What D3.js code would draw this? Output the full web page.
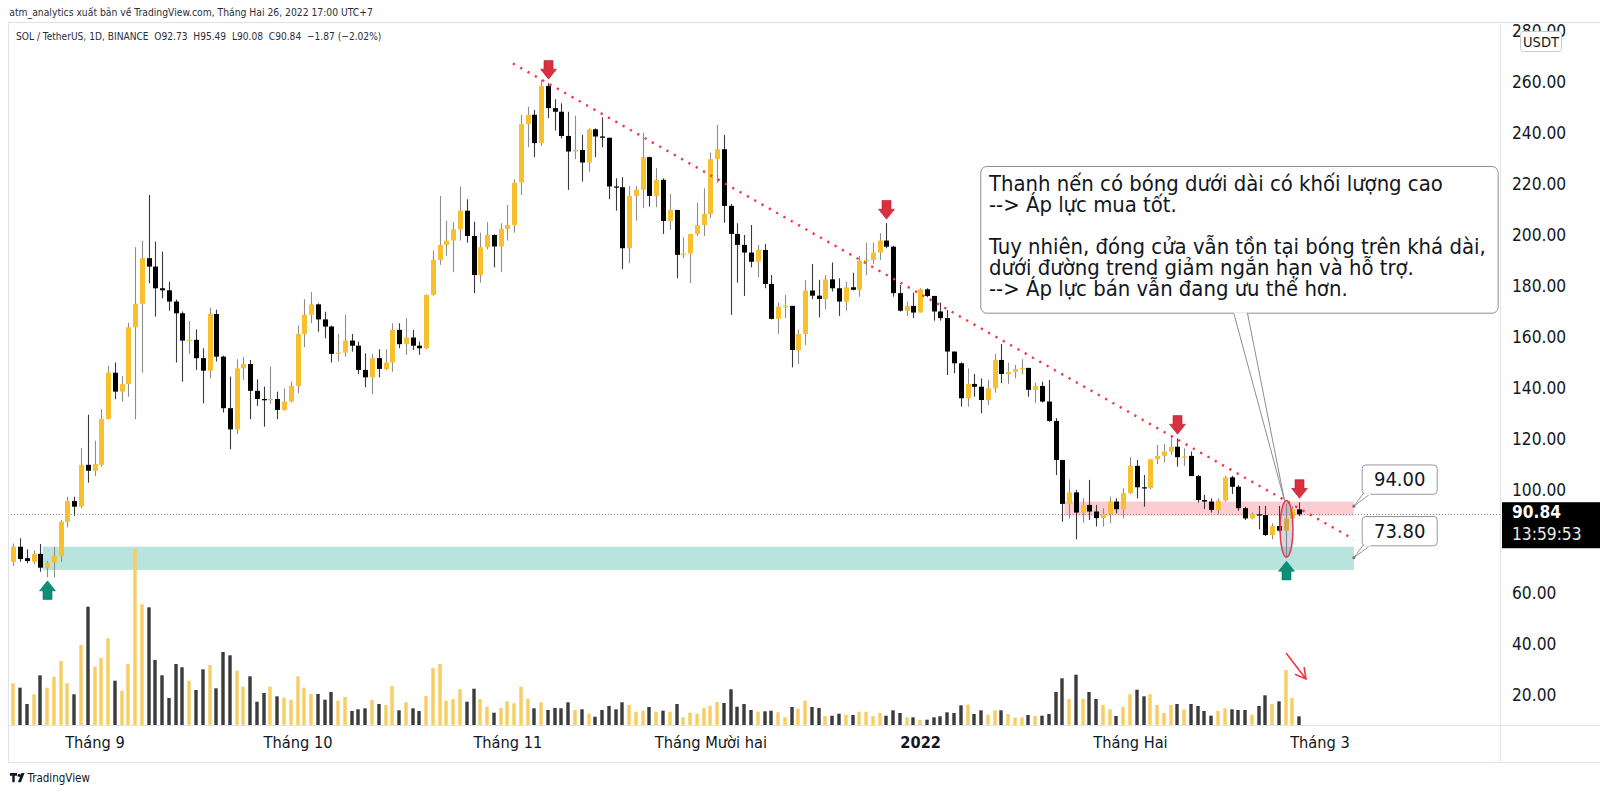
<!DOCTYPE html>
<html><head><meta charset="utf-8">
<script src="https://cdn.jsdelivr.net/npm/d3@7"></script>
<style>
html,body{margin:0;padding:0;background:#fff;}
svg{display:block;}
text{font-family:"DejaVu Sans Condensed","DejaVu Sans",sans-serif;}
</style></head>
<body>
<svg id="c" width="1600" height="794"></svg>
<script>
// ---------------- DATA ----------------
const startDay = "2021-08-20"; // first daily bar
const opens = [72.2,78.1,73.6,72.2,75.3,69.9,71.9,74.5,87.9,96.0,93.8,110.2,107.9,110.2,128.2,146.3,138.9,141.9,164.1,173.3,191.2,187.9,179.4,178.6,174.2,169.6,158.9,159.2,152.0,147.1,169.3,152.6,132.4,124.1,148.0,149.7,139.2,136.0,135.5,136.0,131.7,135.0,141.1,161.5,169.0,173.1,167.2,164.4,153.7,154.2,158.9,156.9,147.4,144.5,152.0,147.8,150.3,163.1,157.5,160.1,156.9,155.9,176.8,190.5,196.4,198.1,202.5,209.8,199.9,184.6,195.5,200.3,195.8,202.7,204.2,220.8,243.7,247.4,236.3,258.7,250.0,248.6,239.1,233.0,233.6,228.7,241.7,238.9,238.4,219.3,219.0,195.1,215.6,218.0,230.8,215.6,221.9,205.8,210.1,192.5,193.0,200.7,204.2,208.5,230.0,233.9,211.7,200.7,196.4,193.4,189.8,194.4,181.1,167.4,172.2,172.5,155.2,161.5,178.5,176.5,175.2,182.9,179.4,174.2,179.8,178.8,190.2,190.5,193.4,198.1,195.7,177.5,170.6,172.5,169.9,179.0,176.4,170.3,167.7,154.6,150.0,136.3,141.9,140.8,135.6,140.2,151.3,145.8,146.6,147.7,148.2,139.6,141.1,135.0,127.4,112.1,94.9,99.4,91.5,94.5,91.9,89.3,90.9,95.8,92.8,99.1,109.8,101.4,101.2,112.4,113.7,115.4,117.3,113.2,113.7,105.8,96.4,95.8,92.5,96.2,105.3,101.6,93.2,89.2,90.8,90.5,82.7,86.2,84.4,89.2,92.73];
const highs = [79.4,81.4,77.1,76.6,79.2,72.6,78.1,88.6,97.7,97.7,116.7,129.8,119.7,132.0,149.0,150.3,145.0,165.9,195.5,198.0,216.0,197.7,193.8,182.0,175.0,170.3,166.6,163.3,155.9,171.8,171.0,153.0,144.8,151.6,152.6,151.3,143.7,140.9,148.7,138.9,140.2,142.8,164.8,175.1,177.9,173.5,170.2,164.8,161.5,169.0,161.5,158.5,153.9,153.7,155.5,155.5,165.7,165.7,167.7,163.1,158.5,177.0,194.2,215.6,205.9,205.3,219.3,214.3,205.5,201.2,205.3,200.5,204.9,212.1,222.1,247.4,250.6,249.3,261.1,259.8,253.5,251.9,248.6,247.0,239.5,242.1,242.1,246.4,238.4,222.5,222.9,219.5,219.5,240.4,231.0,226.5,222.5,216.4,210.1,199.4,200.7,213.0,218.6,232.6,243.4,239.5,212.5,204.9,200.3,204.2,196.4,196.8,184.6,173.8,176.8,172.5,163.3,182.7,188.9,182.7,184.6,189.5,183.3,182.0,185.5,192.1,197.3,197.3,201.0,204.9,196.0,180.7,174.2,177.7,179.4,179.4,176.4,173.8,170.9,154.6,150.4,148.0,145.8,144.1,143.5,153.7,157.6,150.3,149.4,151.6,148.2,142.4,142.8,143.5,128.5,112.1,104.5,100.4,97.1,104.3,94.5,93.2,97.7,97.1,101.0,113.2,112.1,106.2,112.4,118.0,118.4,121.5,120.6,116.7,115.4,106.2,98.4,97.1,97.1,105.9,105.9,102.3,93.8,91.5,94.1,94.1,87.3,94.1,94.9,94.1,95.49];
const lows = [70.6,72.2,71.6,71.3,68.3,66.1,66.1,72.2,85.7,90.2,93.2,103.2,105.8,109.5,128.0,135.9,135.0,136.9,128.1,146.3,181.4,168.3,175.5,170.6,150.3,142.8,153.7,147.4,134.3,144.1,150.7,130.7,116.3,122.3,143.5,128.1,133.3,125.2,134.1,128.1,131.4,134.7,138.3,156.3,165.7,162.4,159.8,150.3,150.7,152.6,154.6,145.7,140.6,137.9,144.5,147.4,146.7,155.9,153.3,155.2,153.3,155.5,176.5,188.6,192.1,185.7,198.1,197.3,177.5,181.6,194.7,187.6,185.7,198.1,201.2,216.0,234.7,230.8,235.2,246.1,241.2,238.2,218.0,230.0,221.2,225.1,230.8,234.7,214.3,209.8,186.9,189.2,205.9,210.8,211.4,211.2,200.7,202.3,183.3,191.2,181.4,199.9,199.9,206.9,220.6,205.1,169.0,181.6,176.4,187.6,183.7,179.4,167.2,161.5,167.7,148.4,149.7,157.2,175.1,168.0,171.2,178.1,168.6,170.6,178.6,176.1,184.6,188.9,190.5,195.1,176.1,170.3,168.6,167.7,169.9,175.9,166.7,166.7,145.4,146.1,133.0,133.0,136.9,130.4,133.7,138.5,142.2,141.9,144.1,145.8,136.9,134.3,134.6,127.1,106.2,87.9,89.2,81.0,87.5,88.6,86.0,86.0,87.3,91.2,89.2,98.8,97.1,93.8,100.6,110.5,111.1,114.1,109.5,109.8,105.8,95.4,92.8,91.5,90.9,95.8,98.8,92.2,88.6,88.8,84.9,82.3,81.0,84.0,73.8,86.6,90.08];
const closes = [78.1,73.3,72.5,75.3,69.9,71.9,74.5,87.9,96.0,93.8,110.2,107.9,110.5,128.2,146.3,138.9,141.9,164.1,173.3,191.2,187.9,179.4,178.6,174.2,169.6,158.9,159.2,152.0,147.1,169.3,152.6,132.4,124.1,148.0,149.7,139.2,136.0,135.5,136.0,131.7,135.0,141.1,161.5,169.0,173.1,167.2,164.4,153.7,154.2,158.9,156.9,147.4,144.5,152.0,147.8,150.3,163.1,157.5,160.1,156.9,155.9,176.8,190.5,196.4,198.1,202.5,209.8,199.9,184.6,195.5,200.3,195.8,202.7,204.2,220.8,243.7,247.4,236.3,258.7,250.0,248.6,239.1,233.0,233.6,228.7,241.7,238.9,238.4,219.3,219.0,195.1,215.6,218.0,230.8,215.6,221.9,205.8,210.1,192.5,193.0,200.7,204.2,208.5,230.0,233.9,211.7,200.7,196.4,193.4,189.8,194.4,181.1,167.4,172.2,172.5,155.2,161.5,178.5,176.5,175.2,182.9,179.4,174.2,179.8,178.8,190.2,190.5,193.4,198.1,195.7,177.5,170.6,172.5,169.9,179.0,176.4,170.3,167.7,154.6,150.0,136.3,141.9,140.8,135.6,140.2,151.3,145.8,146.6,147.7,148.2,139.6,141.1,135.0,127.4,112.1,94.9,99.4,91.5,94.5,91.9,89.3,90.9,95.8,92.8,99.1,109.8,101.4,101.2,112.4,113.7,115.4,117.3,113.2,113.5,105.8,96.4,95.8,92.5,96.2,105.3,101.6,93.2,89.2,90.8,90.5,82.7,86.2,84.4,89.2,92.73,90.84];
const volumes = [41.7,37.3,21,30.7,49.7,37.3,48.3,64,41.7,30.7,80,118.3,58.3,67,86.7,44.3,34.3,61,176,120.7,117.7,65,49.7,27,61,57.7,44.3,35,55.7,60,36.7,73,69.7,54.3,38.3,48.7,23.3,32,38.3,28.7,27.3,25.3,48.7,37.3,31,31,25.3,33,24.3,28,14,15.7,16.7,25,21,20,39,14.7,22.7,16.7,14,29,57,61,24.3,
26,35.7,23.3,36.3,26,18.3,12.3,17,23.7,21.7,38.3,26,16.7,22.7,15,17,16.7,22.7,15,15.7,11.3,8.3,15,19,15.7,22.7,20,13.3,14.3,18,13.3,14.3,13.3,21,7.7,12.3,11.3,17,19,23,22,35.7,18.3,21,15,13.3,13.7,14.3,12.7,7.7,18,16.3,24.3,18,17,9,9.3,11.3,10.3,10,13.3,13.3,9,12,9.3,
14.7,12,7.7,7.7,5,5.3,7.7,8.7,12.7,12,19.7,20.3,11,14.7,10.3,14.7,14.7,11,7.3,7.7,10,9,9.3,11,33,46.7,26,50.3,26,33,26,20,15.7,9,18,30.7,35.3,28.7,30.7,20,12,20,21,15.7,21,19,14,9.3,14,16.7,15.7,15,15,10.3,19,29.7,21,23.7,55,27,8.7];

const priceTicks = [20,40,60,80,100,120,140,160,180,200,220,240,260,280];
const timeTickDates = ["2021-09-01","2021-10-01","2021-11-01","2021-12-01","2022-01-01","2022-02-01","2022-03-01"];
const timeTickLabels = ["Tháng 9","Tháng 10","Tháng 11","Tháng Mười hai","2022","Tháng Hai","Tháng 3"];

const lastPrice = 90.84;
const trendLine = [[73.83, 267.5],[198.08, 81.0]];    // [bar index, price]
const supportZone = {from:4.35, to:198.08, lo:69.0, hi:78.1};
const resistZone = {from:155.3, to:198.08, lo:90.3, hi:95.8};
const zoneLabels = [{value:94.00, at:198.08, text:"94.00"},{value:73.80, at:198.08, text:"73.80"}];
const downArrowBars = [79, 129, 172, 190];
const upArrowBars = [5, 188];
const circledBar = {bar:188, lo:74.0, hi:96.2};
const volArrow = [[188.05, 72],[191.0, 46]]; // [bar index, volume]
const headerText = "atm_analytics xuất bản về TradingView.com, Tháng Hai 26, 2022 17:00 UTC+7";
const legendText = "SOL / TetherUS, 1D, BINANCE  O92.73  H95.49  L90.08  C90.84  −1.87 (−2.02%)";
const noteLines = ["Thanh nến có bóng dưới dài có khối lượng cao","--> Áp lực mua tốt.","","Tuy nhiên, đóng cửa vẫn tồn tại bóng trên khá dài,","dưới đường trend giảm ngắn hạn và hỗ trợ.","--> Áp lực bán vẫn đang ưu thế hơn."];

// ---------------- LAYOUT ----------------
const W = 1600, H = 794;
const paneL = 8, paneR = 1500, paneT = 23, paneB = 725, axisB = 762;
const DAY = 864e5;
const t0 = Date.parse(startDay + "T00:00:00Z");
const dates = opens.map((d,i)=> new Date(t0 + i*DAY));
const barAt = b => new Date(t0 + b*DAY);

const x = d3.scaleUtc()
  .domain([barAt(-1.965), barAt(219.67)])
  .range([0, paneR]);
const xb = b => x(barAt(b));
const y = d3.scaleLinear().domain([0, 280]).range([746, 31.6]);
const yv = d3.scaleLinear().domain([0, 176]).range([paneB, paneB - 176]);

const YEL = "#f7c02c", BLK = "#000000";
const svg = d3.select("#c");
svg.append("rect").attr("width",W).attr("height",H).attr("fill","#fff");

// frame
const frame = svg.append("g").attr("stroke","#e0e3eb").attr("stroke-width",1).attr("shape-rendering","crispEdges");
frame.append("line").attr("x1",paneL).attr("x2",W).attr("y1",paneT-0.5).attr("y2",paneT-0.5);
frame.append("line").attr("x1",paneL+0.5).attr("x2",paneL+0.5).attr("y1",paneT).attr("y2",axisB);
frame.append("line").attr("x1",paneR+0.5).attr("x2",paneR+0.5).attr("y1",paneT).attr("y2",axisB);
frame.append("line").attr("x1",paneL).attr("x2",W).attr("y1",paneB+0.5).attr("y2",paneB+0.5);
frame.append("line").attr("x1",paneL).attr("x2",W).attr("y1",axisB+0.5).attr("y2",axisB+0.5);

svg.append("clipPath").attr("id","pane").append("rect")
  .attr("x",paneL+1).attr("y",paneT).attr("width",paneR-paneL-1).attr("height",paneB-paneT);
const g = svg.append("g").attr("clip-path","url(#pane)");

// zones
[[supportZone,"rgba(34,171,148,0.32)"],[resistZone,"rgba(242,54,69,0.25)"]].forEach(([z,c])=>{
  g.append("rect").attr("x",xb(z.from)).attr("width",xb(z.to)-xb(z.from))
   .attr("y",y(z.hi)).attr("height",y(z.lo)-y(z.hi)).attr("fill",c);
});

// last price dotted line
g.append("line").attr("x1",paneL).attr("x2",paneR).attr("y1",Math.round(y(lastPrice))+0.5).attr("y2",Math.round(y(lastPrice))+0.5)
 .attr("stroke","#8a8d96").attr("stroke-width",1).attr("stroke-dasharray","1,2");

const idx = d3.range(opens.length);
const up = i => closes[i] >= opens[i];
const cx = i => Math.round(x(dates[i]));

// volume
g.append("g").selectAll("rect").data(idx).join("rect")
  .attr("x", i=>cx(i)-1.7).attr("width",3.4)
  .attr("y", i=>yv(volumes[i])).attr("height", i=>yv(0)-yv(volumes[i]))
  .attr("fill", i=> up(i) ? "#f8cd63" : "#3b3b3b");

// wicks
g.append("g").selectAll("line").data(idx).join("line")
  .attr("x1", i=>cx(i)+0.5).attr("x2", i=>cx(i)+0.5)
  .attr("y1", i=>y(highs[i])).attr("y2", i=>y(lows[i]))
  .attr("stroke", i=> up(i) ? "#8d8d8d" : "#3a3a3a").attr("stroke-width",1.1);
// bodies
g.append("g").selectAll("rect").data(idx).join("rect")
  .attr("x", i=>cx(i)-2).attr("width",5)
  .attr("y", i=>y(Math.max(opens[i],closes[i])))
  .attr("height", i=>Math.max(1.2, Math.abs(y(opens[i])-y(closes[i]))))
  .attr("fill", i=> up(i) ? YEL : BLK);

// trend line
g.append("line")
  .attr("x1",xb(trendLine[0][0])).attr("y1",y(trendLine[0][1]))
  .attr("x2",xb(trendLine[1][0])).attr("y2",y(trendLine[1][1]))
  .attr("stroke","#f23645").attr("stroke-width",2.4).attr("stroke-dasharray","2.2,6.2").attr("stroke-linecap","butt");

// circled candle
g.append("ellipse").attr("cx",cx(circledBar.bar)+0.5)
  .attr("cy",(y(circledBar.lo)+y(circledBar.hi))/2)
  .attr("rx",6.4).attr("ry",(y(circledBar.lo)-y(circledBar.hi))/2)
  .attr("fill","rgba(110,112,150,0.28)").attr("stroke","#e2384f").attr("stroke-width",1.5);

// arrows
function downArrow(cxp, tipY){
  return `M${cxp-4.5},${tipY-18.7}h9v8.7h3.5l-8,10l-8,-10h3.5z`;
}
function upArrow(cxp, tipY){
  return `M${cxp},${tipY}l8,10h-3.5v8.7h-9v-8.7h-3.5z`;
}
g.append("g").selectAll("path").data(downArrowBars).join("path")
  .attr("d", i=>downArrow(cx(i)+0.5, y(highs[i])-4))
  .attr("fill","#d8303f").attr("stroke","#b8202e").attr("stroke-width",0.6);
g.append("g").selectAll("path").data(upArrowBars).join("path")
  .attr("d", i=>upArrow(cx(i)+0.5, y(lows[i])+3.5))
  .attr("fill","#0b8f77").attr("stroke","#087a65").attr("stroke-width",0.6);

// volume arrow
{
  const x1 = xb(volArrow[0][0]), y1 = yv(volArrow[0][1]), x2 = xb(volArrow[1][0]), y2 = yv(volArrow[1][1]);
  const ang = Math.atan2(y2-y1, x2-x1), L = 12, a = 0.5;
  const p1 = [x2 - L*Math.cos(ang - a), y2 - L*Math.sin(ang - a)];
  const p2 = [x2 - L*Math.cos(ang + a), y2 - L*Math.sin(ang + a)];
  g.append("path").attr("d",`M${x1},${y1}L${x2},${y2}M${p1[0]},${p1[1]}L${x2},${y2}L${p2[0]},${p2[1]}`)
   .attr("fill","none").attr("stroke","#f23645").attr("stroke-width",1.6);
}

// --------- callout note ---------
const box = {x:980.3, y:166, w:517.3, h:146.7};
const tip = [cx(circledBar.bar)-1.5, y(circledBar.hi)];
const notch = [1233.4, 1247.2];
svg.append("path").attr("d",`M${notch[0]},${box.y+box.h-1}L${tip[0]},${tip[1]}L${notch[1]},${box.y+box.h-1}`)
  .attr("fill","#fff").attr("stroke","#8a8d96").attr("stroke-width",1);
svg.append("rect").attr("x",box.x+0.5).attr("y",box.y+0.5).attr("width",box.w).attr("height",box.h)
  .attr("rx",6).attr("fill","#fff").attr("stroke","#8a8d96").attr("stroke-width",1);
svg.append("line").attr("x1",notch[0]+0.6).attr("x2",notch[1]-0.6).attr("y1",box.y+box.h+0.5).attr("y2",box.y+box.h+0.5).attr("stroke","#fff").attr("stroke-width",1.4);
const noteTexts = svg.append("g").selectAll("text").data(noteLines).join("text")
  .attr("x",989).attr("y",(d,i)=>191.2 + i*21).attr("font-size",17).attr("fill","#131722").text(d=>d);
{
  const n = noteTexts.filter((d,i)=>i===3).node();
  const w = n.getComputedTextLength();
  noteTexts.attr("font-size", 17*497/w);
}

// --------- zone value labels ---------
zoneLabels.forEach(z=>{
  const px = xb(z.at), py = y(z.value);
  const bx = 1361.7, bw = 75, bh = 29.3, by = py - 41.7;
  svg.append("path").attr("d",`M1363.5,${by+bh-0.5}L${px},${py}L1371,${by+bh-0.5}`)
    .attr("fill","#fff").attr("stroke","#9598a1").attr("stroke-width",1);
  svg.append("rect").attr("x",bx+0.5).attr("y",by+0.5).attr("width",bw).attr("height",bh).attr("rx",3.5)
    .attr("fill","#fff").attr("stroke","#9598a1").attr("stroke-width",1);
  svg.append("line").attr("x1",1364).attr("x2",1370.5).attr("y1",by+bh+0.5).attr("y2",by+bh+0.5).attr("stroke","#fff").attr("stroke-width",1.4);
  svg.append("circle").attr("cx",px).attr("cy",py).attr("r",1.6).attr("fill","#787b86");
  svg.append("text").attr("x",bx+bw/2+0.5).attr("y",by+bh/2+7.2).attr("text-anchor","middle")
    .attr("font-family","DejaVu Sans").attr("font-size",20).attr("fill","#131722").text(z.text);
});

// --------- axes ---------
const timeLabels = svg.append("g").selectAll("text").data(timeTickDates).join("text")
  .attr("x", d=>x(new Date(d+"T00:00:00Z"))+0.5).attr("y",748).attr("text-anchor","middle")
  .attr("font-size",16).attr("fill","#131722")
  .attr("font-weight",(d,i)=> timeTickLabels[i]==="2022" ? "bold" : "normal")
  .text((d,i)=>timeTickLabels[i]);
let axisFont = 16;
{
  const n = timeLabels.filter((d,i)=>i===1).node();
  axisFont = 16*69/n.getComputedTextLength();
  timeLabels.attr("font-size", axisFont);
}
const priceFont = axisFont*1.06;
svg.append("g").selectAll("text").data(priceTicks).join("text")
  .attr("x",1512).attr("y",d=>y(d)+5.6).attr("font-size",priceFont).attr("fill","#131722")
  .text(d=>d.toFixed(2));

// USDT badge
svg.append("rect").attr("x",1520.5).attr("y",31.5).attr("width",41).attr("height",20).attr("rx",3)
  .attr("fill","#fff").attr("stroke","#c9cbd3");
svg.append("text").attr("x",1541).attr("y",46.5).attr("text-anchor","middle").attr("font-size",14.5).attr("fill","#131722").text("USDT");

// last price label
{
  const py = y(lastPrice);
  svg.append("rect").attr("x",1502).attr("y",py-12).attr("width",98).attr("height",46).attr("fill","#000");
  svg.append("text").attr("x",1512).attr("y",py+3.5).attr("font-size",priceFont).attr("font-weight","bold").attr("fill","#fff").text(lastPrice.toFixed(2));
  svg.append("text").attr("x",1512).attr("y",py+25.5).attr("font-size",priceFont).attr("fill","#e8e8e8").text("13:59:53");
}

// header & legend
const hdr = svg.append("text").attr("x",9.3).attr("y",16).attr("font-size",12).attr("fill","#2a2e39").text(headerText);
hdr.attr("font-size", 12*364/hdr.node().getComputedTextLength());
const leg = svg.append("text").attr("x",16).attr("y",39.5).attr("font-size",12).attr("fill","#2a2e39")
  .attr("xml:space","preserve").style("white-space","pre").text(legendText);
leg.attr("font-size", 12*365.7/leg.node().getComputedTextLength());

// TradingView logo
{
  const lg = svg.append("g").attr("fill","#131722");
  lg.append("path").attr("d","M10,773h7v2.8h-2.3v6.4h-2.4v-6.4h-2.3z");
  lg.append("circle").attr("cx",19.3).attr("cy",775.3).attr("r",1.6);
  lg.append("path").attr("d","M21.5,773h3l-3.6,9.2h-3z");
  const tv = svg.append("text").attr("x",27.5).attr("y",782).attr("font-size",11).attr("fill","#131722").text("TradingView");
  tv.attr("font-size", 11*62.5/tv.node().getComputedTextLength());
}
</script>
</body></html>
